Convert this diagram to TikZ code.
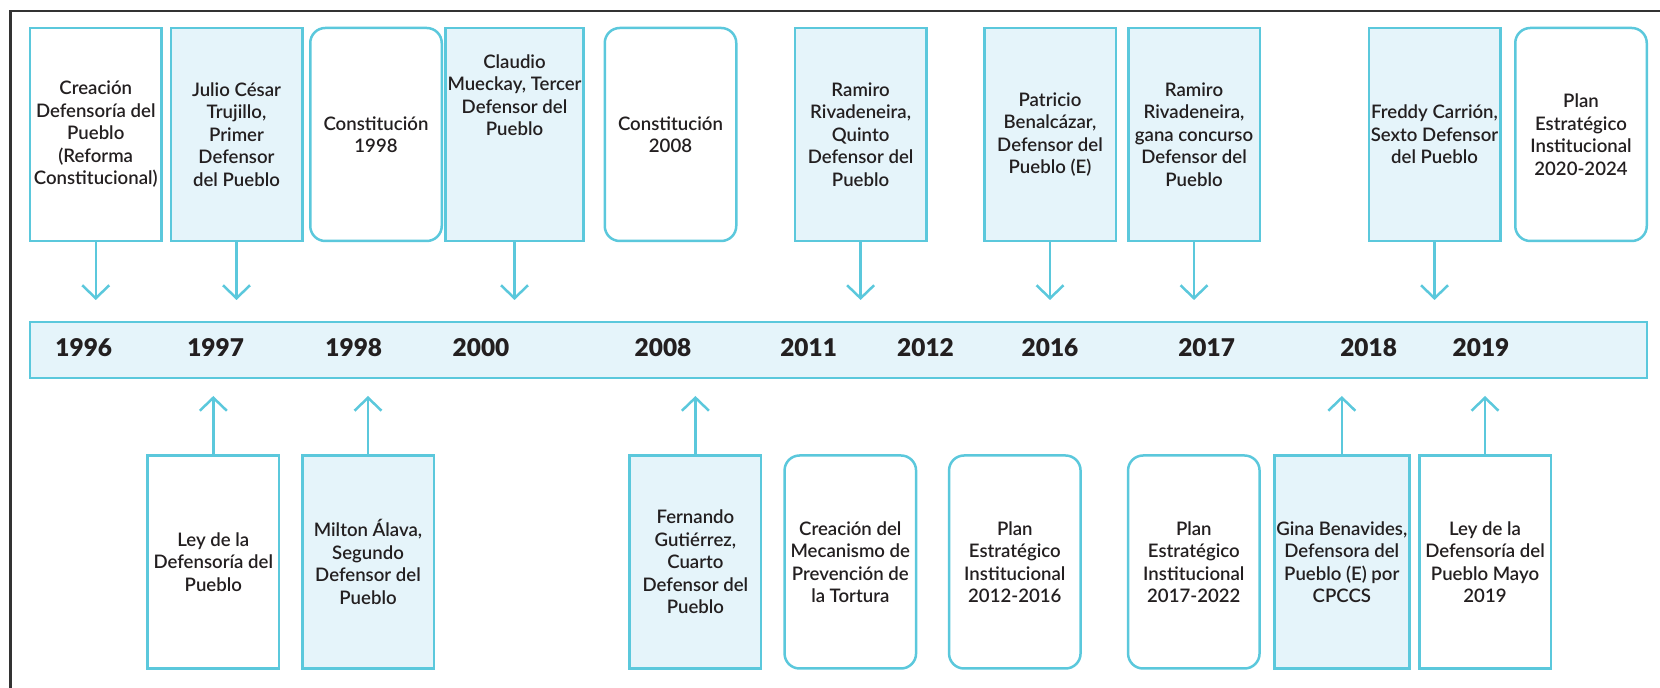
\documentclass[tikz,border=0pt]{standalone}
\usepackage{fontspec}
\setmainfont{Lato}[UprightFont={* Semibold}, BoldFont={* Black}]
\usetikzlibrary{arrows.meta}
\definecolor{cy}{HTML}{5BC8DC}
\definecolor{lb}{HTML}{E5F4FA}
\definecolor{ink}{HTML}{231F20}
\definecolor{framec}{HTML}{333333}
\begin{document}
\begin{tikzpicture}[x=0.5pt,y=-0.5pt,
  card/.style={draw=cy, line width=1.25pt, minimum width=65.75pt, minimum height=106.5pt,
    inner sep=1pt, align=center, text=ink, font=\fontsize{9.3}{11.25}\selectfont},
  sq/.style={card, fill=white},
  sqb/.style={card, fill=lb},
  rnd/.style={card, fill=white, rounded corners=7.5pt},
  bar/.style={draw=cy, fill=lb, line width=1.25pt, minimum width=808.5pt, minimum height=28.2pt, inner sep=0pt},
  yr/.style={text=ink, font=\fontsize{12.2}{14}\selectfont\bfseries},
  arr/.style={draw=cy, line width=1.25pt, -{Straight Barb[length=6.5pt,width=13.5pt]}},
  framel/.style={draw=framec, line width=1.25pt}
]
\useasboundingbox (0,0) rectangle (1660,688);
\draw[framel] (10.3,688) -- (10.3,11) -- (1660,11);

% timeline bar
\node[bar] (bar) at (838.5,350) {};
\node[yr] (y1996) at (83.8,348) {1996};
\node[yr] (y1997) at (215.6,348) {1997};
\node[yr] (y1998) at (353.8,348) {1998};
\node[yr] (y2000) at (481,348) {2000};
\node[yr] (y2008) at (663,348) {2008};
\node[yr] (y2011) at (808.6,348) {2011};
\node[yr] (y2012) at (925.5,348) {2012};
\node[yr] (y2016) at (1050,348) {2016};
\node[yr] (y2017) at (1206.6,348) {2017};
\node[yr] (y2018) at (1368.6,348) {2018};
\node[yr] (y2019) at (1481,348) {2019};

% top boxes
\node[sq]  (t1)  at (95.75,134.5) {Creación\\Defensoría del\\Pueblo\\(Reforma\\Constitucional)};
\node[sqb] (t2)  at (236.5,134.5) {Julio César\\Trujillo,\\Primer\\Defensor\\del Pueblo};
\node[rnd] (t3)  at (376,134.5) {Constitución\\1998};
\node[sqb] (t4)  at (514.5,134.5) {Claudio\\Mueckay, Tercer\\Defensor del\\Pueblo\\[28pt]\mbox{}};
\node[rnd] (t5)  at (670.5,134.5) {Constitución\\2008};
\node[sqb] (t6)  at (860.6,134.5) {Ramiro\\Rivadeneira,\\Quinto\\Defensor del\\Pueblo};
\node[sqb] (t7)  at (1050,134.5) {Patricio\\Benalcázar,\\Defensor del\\Pueblo (E)};
\node[sqb] (t8)  at (1194,134.5) {Ramiro\\Rivadeneira,\\gana concurso\\Defensor del\\Pueblo};
\node[sqb] (t9)  at (1434.5,134.5) {Freddy Carrión,\\Sexto Defensor\\del Pueblo};
\node[rnd] (t10) at (1581,134.5) {Plan\\Estratégico\\Institucional\\2020-2024};

% bottom boxes
\node[sq]  (b1) at (213.3,562) {Ley de la\\Defensoría del\\Pueblo};
\node[sqb] (b2) at (368,562) {Milton Álava,\\Segundo\\Defensor del\\Pueblo};
\node[sqb] (b3) at (695.4,562) {Fernando\\Gutiérrez,\\Cuarto\\Defensor del\\Pueblo};
\node[rnd] (b4) at (850.3,562) {Creación del\\Mecanismo de\\Prevención de\\la Tortura};
\node[rnd] (b5) at (1014.8,562) {Plan\\Estratégico\\Institucional\\2012-2016};
\node[rnd] (b6) at (1193.8,562) {Plan\\Estratégico\\Institucional\\2017-2022};
\node[sqb] (b7) at (1341.8,562) {Gina Benavides,\\Defensora del\\Pueblo (E) por\\CPCCS};
\node[sq]  (b8) at (1485,562) {Ley de la\\Defensoría del\\Pueblo Mayo\\2019};

% arrow tips
\coordinate (a1) at (95.75,300);
\coordinate (a2) at (236.5,300);
\coordinate (a4) at (514.5,300);
\coordinate (a6) at (860.6,300);
\coordinate (a7) at (1050,300);
\coordinate (a8) at (1194,300);
\coordinate (a9) at (1434.5,300);
\coordinate (c1) at (213.3,396);
\coordinate (c2) at (368,396);
\coordinate (c3) at (695.4,396);
\coordinate (c7) at (1341.8,396);
\coordinate (c8) at (1485,396);

\draw[arr] (t1) -- (a1);
\draw[arr] (t2) -- (a2);
\draw[arr] (t4) -- (a4);
\draw[arr] (t6) -- (a6);
\draw[arr] (t7) -- (a7);
\draw[arr] (t8) -- (a8);
\draw[arr] (t9) -- (a9);
\draw[arr] (b1) -- (c1);
\draw[arr] (b2) -- (c2);
\draw[arr] (b3) -- (c3);
\draw[arr] (b7) -- (c7);
\draw[arr] (b8) -- (c8);
\end{tikzpicture}
\end{document}
